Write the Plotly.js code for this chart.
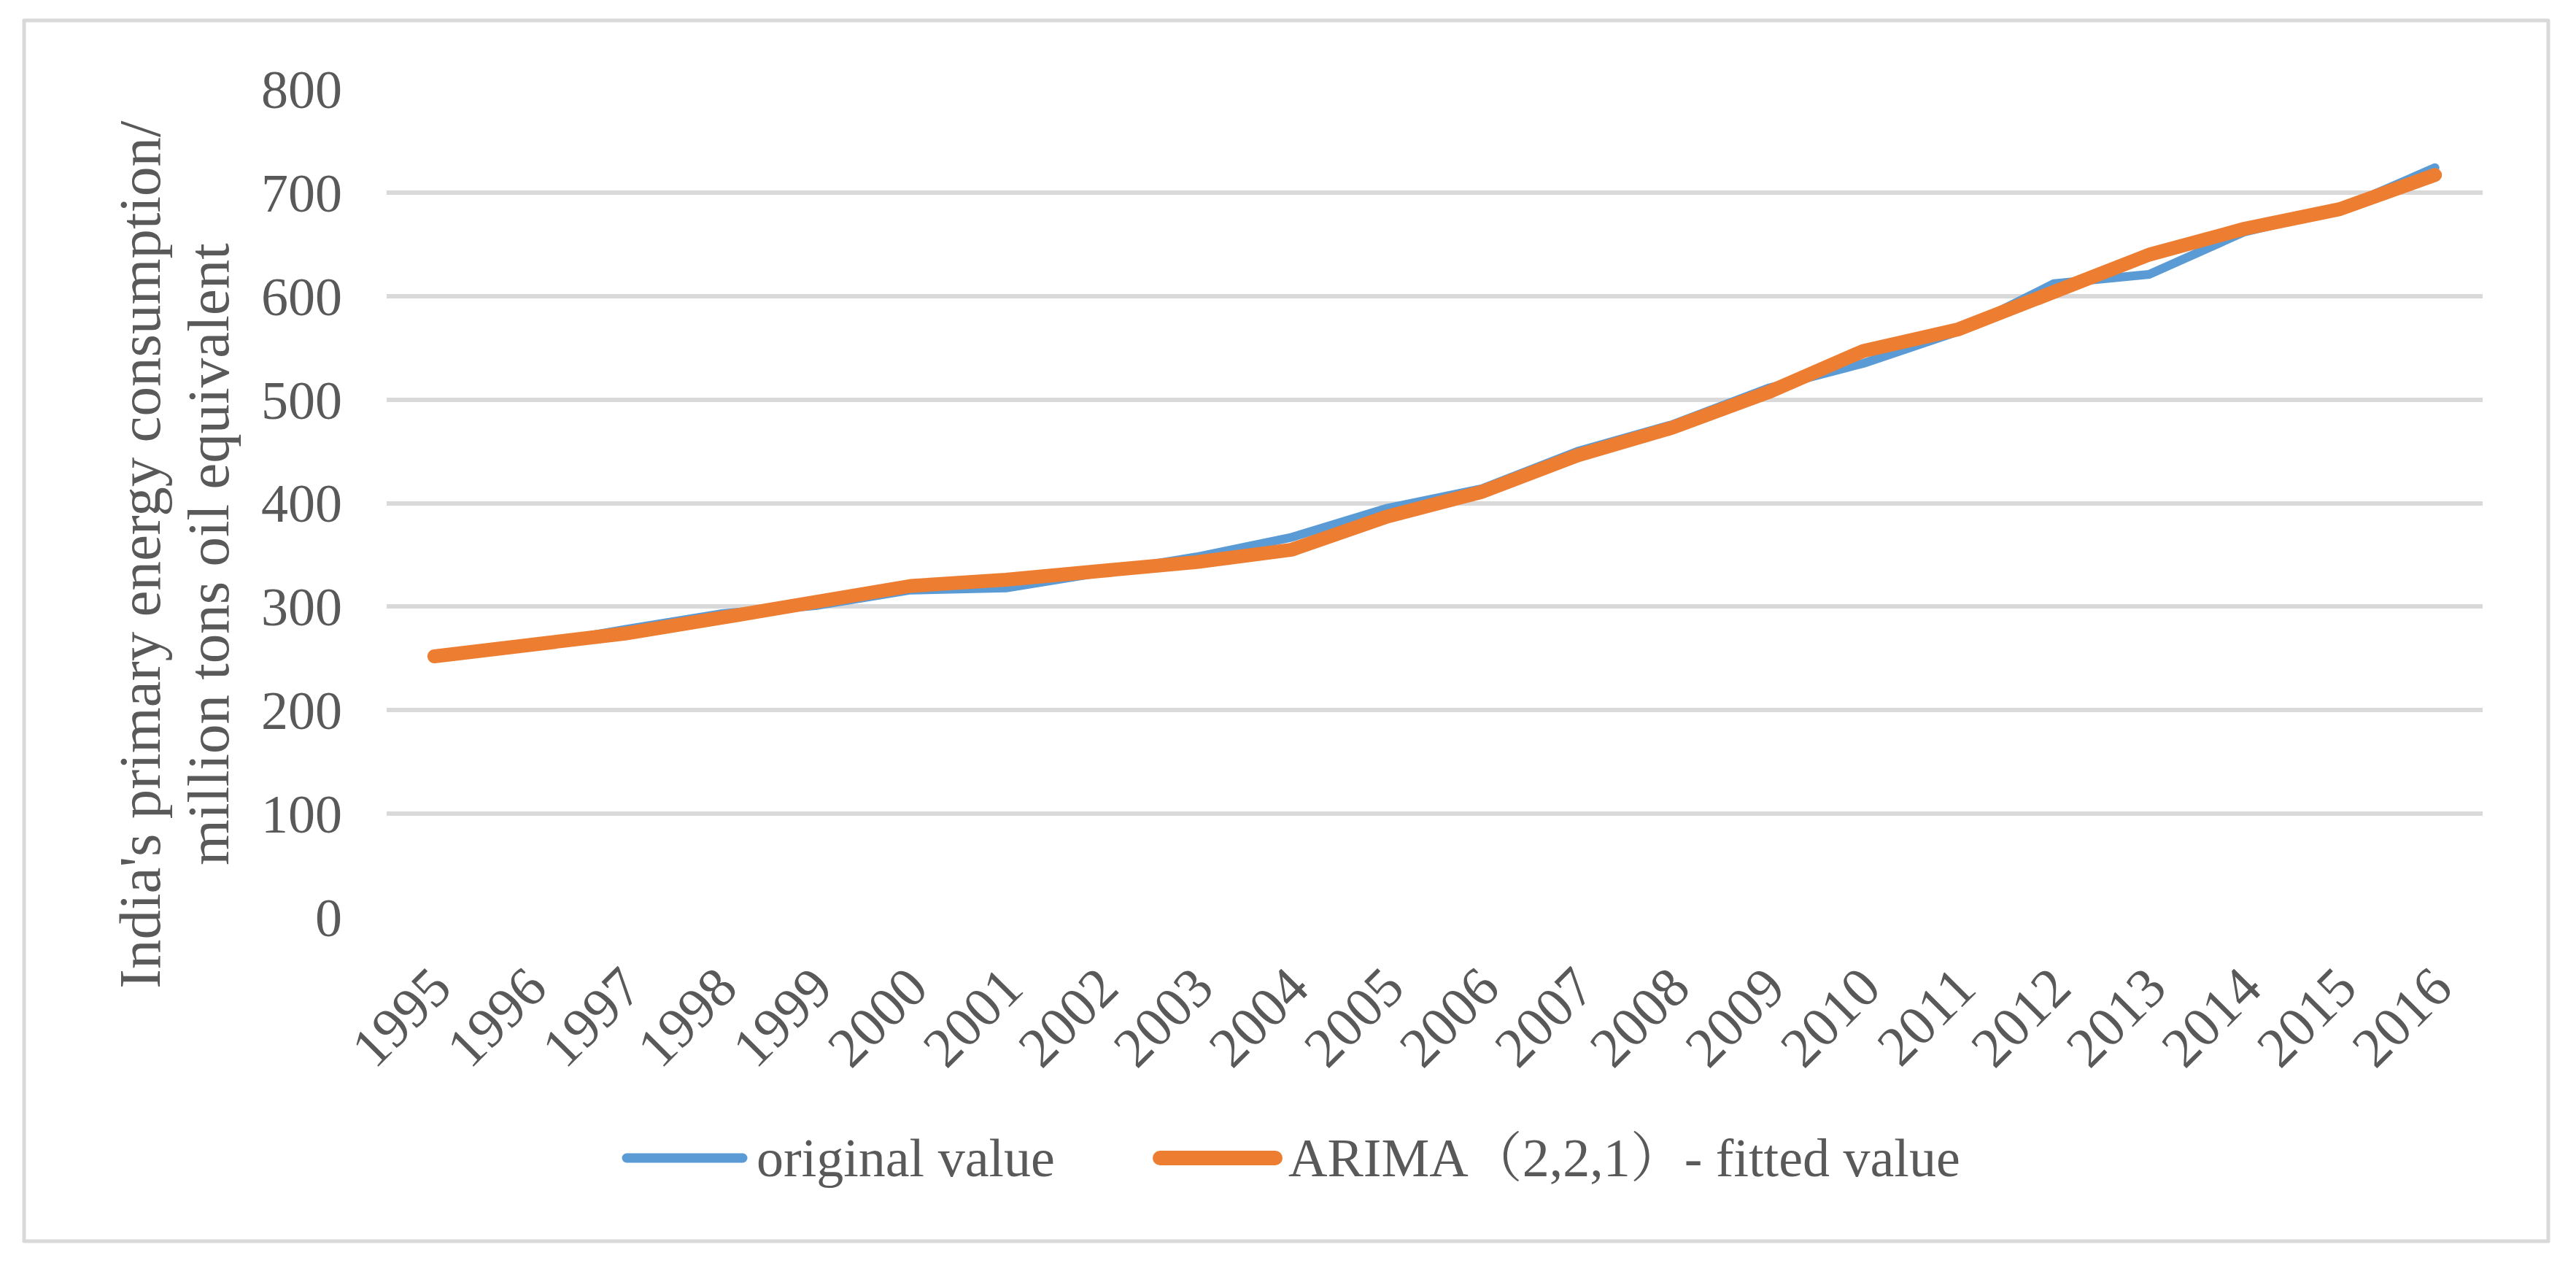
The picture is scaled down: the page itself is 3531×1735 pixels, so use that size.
<!DOCTYPE html>
<html>
<head>
<meta charset="utf-8">
<script src="https://cdn.plot.ly/plotly-3.0.1.min.js"></script>
<style>
  html, body { margin: 0; padding: 0; background: #ffffff; }
  #chart { width: 3531px; height: 1735px; }
  #chart .scatterlayer .js-line { stroke-linecap: round !important; stroke-linejoin: round !important; }
  #chart .shapelayer path { stroke-linecap: round !important; stroke-linejoin: round !important; }
</style>
</head>
<body>
<div id="chart"></div>
<script>
// ---- data ----
const years = ["1995","1996","1997","1998","1999","2000","2001","2002","2003","2004","2005",
               "2006","2007","2008","2009","2010","2011","2012","2013","2014","2015","2016"];
const originalValue = [252, 262, 278, 293, 301, 316, 318, 332, 348, 367, 395,
                       414, 450, 476, 511, 535, 566, 612, 621, 662, 684, 724];
const fittedValue   = [252, 262, 274, 289, 305, 320, 326, 333, 343, 355, 387,
                       411, 446, 473, 507, 547, 568, 604, 640, 665, 684, 717];
const seriesNames = ["original value", "ARIMA（2,2,1）- fitted value"];
const yTitleLines = ["India's primary energy consumption/", "million tons oil equivalent"];
const yTicks = [0, 100, 200, 300, 400, 500, 600, 700, 800];

// ---- styling ----
const W = 3531, H = 1735;
const L = 530, R = 128, T = 122, B = 478;
const PW = W - L - R, PH = H - T - B;
const px2x = p => (p - L) / PW;
const py2y = p => (H - B - p) / PH;
const TXT = "#595959";
const GRID = "#d9d9d9";
const SERIF = "'Liberation Serif', 'Times New Roman', 'Noto Serif CJK SC', 'Noto Sans CJK SC', serif";
const BLUE = "#5b9bd5", ORANGE = "#ed7d31";

const traces = [
  { x: years, y: originalValue, name: seriesNames[0], type: "scatter", mode: "lines",
    line: { color: BLUE, width: 12 }, showlegend: false },
  { x: years, y: fittedValue, name: seriesNames[1], type: "scatter", mode: "lines",
    line: { color: ORANGE, width: 19 }, showlegend: false }
];

const legendY = py2y(1587);
const shapes = [
  { type: "rect", xref: "paper", yref: "paper",
    x0: px2x(33), x1: px2x(3493), y0: py2y(1701), y1: py2y(28),
    line: { color: GRID, width: 5 }, fillcolor: "rgba(0,0,0,0)", layer: "below" },
  { type: "line", xref: "paper", yref: "paper",
    x0: px2x(859), x1: px2x(1018), y0: legendY, y1: legendY,
    line: { color: BLUE, width: 13 } },
  { type: "line", xref: "paper", yref: "paper",
    x0: px2x(1590), x1: px2x(1748), y0: legendY, y1: legendY,
    line: { color: ORANGE, width: 20 } }
];

const annotations = [
  { text: yTitleLines[0], xref: "paper", yref: "paper", x: px2x(192), y: py2y(760),
    xanchor: "center", yanchor: "middle", textangle: -90, showarrow: false,
    font: { family: SERIF, size: 81, color: TXT } },
  { text: yTitleLines[1], xref: "paper", yref: "paper", x: px2x(286), y: py2y(760),
    xanchor: "center", yanchor: "middle", textangle: -90, showarrow: false,
    font: { family: SERIF, size: 81, color: TXT } },
  { text: seriesNames[0], xref: "paper", yref: "paper", x: px2x(1035), y: legendY,
    xanchor: "left", yanchor: "middle", showarrow: false,
    font: { family: SERIF, size: 74, color: TXT } },
  { text: seriesNames[1], xref: "paper", yref: "paper", x: px2x(1764), y: legendY,
    xanchor: "left", yanchor: "middle", showarrow: false,
    font: { family: SERIF, size: 74, color: TXT } }
];

const layout = {
  width: W, height: H,
  margin: { l: L, r: R, t: T, b: B, pad: 0 },
  paper_bgcolor: "#ffffff", plot_bgcolor: "#ffffff",
  showlegend: false,
  font: { family: SERIF, color: TXT, size: 74 },
  xaxis: {
    type: "category", range: [-0.5, years.length - 0.5],
    showgrid: false, zeroline: false, showline: false, ticks: "",
    tickangle: -45, ticklabelstandoff: 34,
    tickfont: { family: SERIF, size: 77, color: TXT },
    fixedrange: true
  },
  yaxis: {
    range: [0, 800], tickvals: yTicks, ticktext: yTicks.map(String),
    showgrid: true, gridcolor: GRID, gridwidth: 6,
    zeroline: false, showline: false, ticks: "",
    ticklabelstandoff: 60,
    tickfont: { family: SERIF, size: 74, color: TXT },
    fixedrange: true
  },
  shapes: shapes,
  annotations: annotations
};

Plotly.newPlot("chart", traces, layout, { displayModeBar: false, staticPlot: true });
</script>
</body>
</html>
